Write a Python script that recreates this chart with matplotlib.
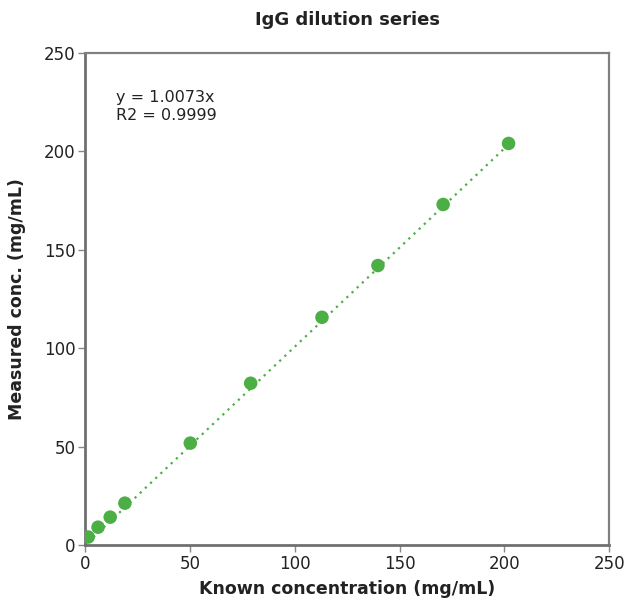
import matplotlib
matplotlib.use("Agg")
import matplotlib.pyplot as plt
import numpy as np

known = [1.5, 6.2, 12.0, 19.0, 50.2, 79.0, 113.0, 139.7, 170.8, 202.0]
measured = [4.1, 9.1, 14.2, 21.3, 51.8, 82.2, 115.7, 142.0, 173.0, 204.0]
slope = 1.0073
title = "IgG dilution series"
xlabel = "Known concentration (mg/mL)"
ylabel = "Measured conc. (mg/mL)"
ticks = [0, 50, 100, 150, 200, 250]

plt.rcParams['font.family'] = ['DejaVu Sans']
green = "#4caf45"

fig = plt.figure(figsize=(6.3, 6.01), dpi=100)
ax = fig.add_axes([0.135, 0.093, 0.832, 0.819])

xs = np.array([min(known), max(known)])
ax.plot(xs, slope * xs, linestyle=(0, (1, 2.2)), color=green, lw=1.6, zorder=2)
ax.scatter(known, measured, s=95, color=green, zorder=3, edgecolors='none')

ax.set_xlim(0, 250)
ax.set_ylim(0, 250)
ax.set_xticks(ticks)
ax.set_yticks(ticks)
ax.tick_params(axis='both', labelsize=12, colors='#222222', length=5, width=1, pad=2)
ax.tick_params(axis='both', color='#888888')
for s in ['left', 'bottom']:
    ax.spines[s].set_color('#707070')
    ax.spines[s].set_linewidth(2)
for s in ['top', 'right']:
    ax.spines[s].set_color('#808080')
    ax.spines[s].set_linewidth(1.6)

ax.set_title(title, fontsize=13, fontweight='bold', color='#222222', pad=20)
ax.set_xlabel(xlabel, fontsize=12.5, fontweight='bold', color='#222222', labelpad=5)
ax.set_ylabel(ylabel, fontsize=12.5, fontweight='bold', color='#222222', labelpad=13)
ax.text(0.06, 0.925, "y = 1.0073x\nR2 = 0.9999", transform=ax.transAxes,
        fontsize=11.5, color='#222222', va='top', ha='left', linespacing=1.3)

fig.savefig("out.png", dpi=100)
